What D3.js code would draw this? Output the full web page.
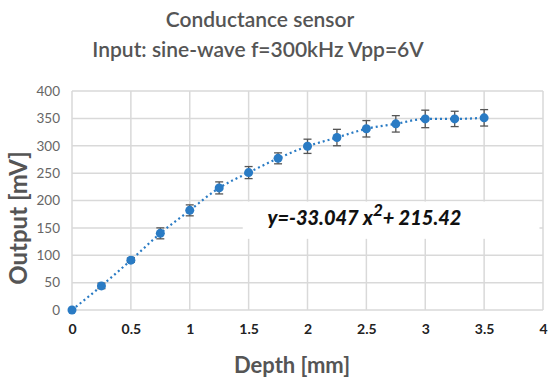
<!DOCTYPE html>
<html>
<head>
<meta charset="utf-8">
<script src="https://cdn.jsdelivr.net/npm/d3@7"></script>
<style>
  body { margin: 0; background: #fff; }
  text { font-family: Lato, "Open Sans", sans-serif; }
</style>
</head>
<body>
<svg id="chart" width="550" height="389"></svg>
<script>
// depth (mm), output (mV), error bar half-size (mV)
var depth  = [0, 0.25, 0.5, 0.75, 1, 1.25, 1.5, 1.75, 2, 2.25, 2.5, 2.75, 3, 3.25, 3.5];
var output = [0, 44, 91, 140, 182, 223, 251, 277, 299, 315, 331, 340, 349, 349, 351];
var errs   = [0, 5, 4, 10, 10, 11, 11, 10, 13, 15, 15, 15, 16, 14, 15];
var xTicks = [0, 0.5, 1, 1.5, 2, 2.5, 3, 3.5, 4];
var yTicks = [0, 50, 100, 150, 200, 250, 300, 350, 400];

var data = depth.map(function (d, i) { return { x: d, y: output[i], e: errs[i] }; });

var svg = d3.select("#chart"),
    margin = { top: 91, right: 7, bottom: 79, left: 72 },
    width = +svg.attr("width") - margin.left - margin.right,
    height = +svg.attr("height") - margin.top - margin.bottom;

var x = d3.scaleLinear().domain([0, 4]).range([0, width]);
var y = d3.scaleLinear().domain([0, 400]).range([height, 0]);

var blue = "#2a7bc4";

// titre
svg.append("text")
    .attr("x", 260).attr("y", 27)
    .attr("text-anchor", "middle")
    .style("font-size", "21px").style("font-weight", "600").style("fill", "#555")
    .text("Conductance sensor");
svg.append("text")
    .attr("x", 258).attr("y", 57)
    .attr("text-anchor", "middle")
    .style("font-size", "21px").style("font-weight", "600").style("fill", "#555")
    .text("Input: sine-wave f=300kHz Vpp=6V");

var g = svg.append("g")
    .attr("transform", "translate(" + margin.left + "," + margin.top + ")");

// grille
g.append("g").selectAll("line")
    .data(yTicks).enter().append("line")
    .attr("x1", 0).attr("x2", width)
    .attr("y1", function (d) { return y(d); })
    .attr("y2", function (d) { return y(d); })
    .attr("stroke", "#d9d9d9").attr("stroke-width", 1.5);
g.append("g").selectAll("line")
    .data(xTicks).enter().append("line")
    .attr("y1", 0).attr("y2", height)
    .attr("x1", function (d) { return x(d); })
    .attr("x2", function (d) { return x(d); })
    .attr("stroke", "#d9d9d9").attr("stroke-width", 1.5);

// axes (labels seulement)
var yAxis = g.append("g")
    .call(d3.axisLeft(y).tickValues(yTicks).tickSize(0).tickPadding(12));
yAxis.select(".domain").remove();
yAxis.selectAll("text")
    .style("font-size", "13.5px").style("fill", "#666")
    .style("font-family", "Lato, sans-serif");

var xAxis = g.append("g")
    .attr("transform", "translate(0," + height + ")")
    .call(d3.axisBottom(x).tickValues(xTicks).tickFormat(d3.format("")).tickSize(0).tickPadding(14));
xAxis.select(".domain").remove();
xAxis.selectAll("text")
    .style("font-size", "14px").style("fill", "#222").style("font-weight", "bold")
    .style("font-family", "Lato, sans-serif");

// boite de l'equation
g.append("rect")
    .attr("x", x(1.45)).attr("y", y(198))
    .attr("width", x(3.97) - x(1.45)).attr("height", y(130) - y(198))
    .attr("fill", "#fff");
var eq = g.append("text")
    .attr("x", x(1.66)).attr("y", y(156))
    .style("font-size", "20px").style("font-weight", "900").style("font-style", "italic")
    .style("fill", "#111");
eq.append("tspan").text("y=-33.047 x");
eq.append("tspan").attr("dy", -9).style("font-size", "17px").text("2");
eq.append("tspan").attr("dy", 9).text("+ 215.42");

// courbe pointillee
var line = d3.line()
    .x(function (d) { return x(d.x); })
    .y(function (d) { return y(d.y); })
    .curve(d3.curveMonotoneX);
g.append("path")
    .datum(data)
    .attr("d", line)
    .attr("fill", "none")
    .attr("stroke", blue)
    .attr("stroke-width", 2.2)
    .attr("stroke-dasharray", "2,3");

// barres d'erreur
var eb = g.append("g").selectAll("g")
    .data(data.filter(function (d) { return d.e > 0; }))
    .enter().append("g")
    .attr("stroke", "#555").attr("stroke-width", 1.3);
eb.append("line")
    .attr("x1", function (d) { return x(d.x); })
    .attr("x2", function (d) { return x(d.x); })
    .attr("y1", function (d) { return y(d.y + d.e); })
    .attr("y2", function (d) { return y(d.y - d.e); });
eb.append("line")
    .attr("x1", function (d) { return x(d.x) - 4; })
    .attr("x2", function (d) { return x(d.x) + 4; })
    .attr("y1", function (d) { return y(d.y + d.e); })
    .attr("y2", function (d) { return y(d.y + d.e); });
eb.append("line")
    .attr("x1", function (d) { return x(d.x) - 4; })
    .attr("x2", function (d) { return x(d.x) + 4; })
    .attr("y1", function (d) { return y(d.y - d.e); })
    .attr("y2", function (d) { return y(d.y - d.e); });

// points
g.selectAll(".pt")
    .data(data)
    .enter().append("circle")
    .attr("class", "pt")
    .attr("cx", function (d) { return x(d.x); })
    .attr("cy", function (d) { return y(d.y); })
    .attr("r", 4.5)
    .attr("fill", blue);

// titres des axes
svg.append("text")
    .attr("x", 292).attr("y", 373)
    .attr("text-anchor", "middle")
    .style("font-size", "22px").style("font-weight", "bold").style("fill", "#555")
    .text("Depth [mm]");
svg.append("text")
    .attr("transform", "translate(27," + 218 + ") rotate(-90)")
    .attr("text-anchor", "middle")
    .style("font-size", "24px").style("font-weight", "bold").style("fill", "#555")
    .text("Output [mV]");
</script>
</body>
</html>
